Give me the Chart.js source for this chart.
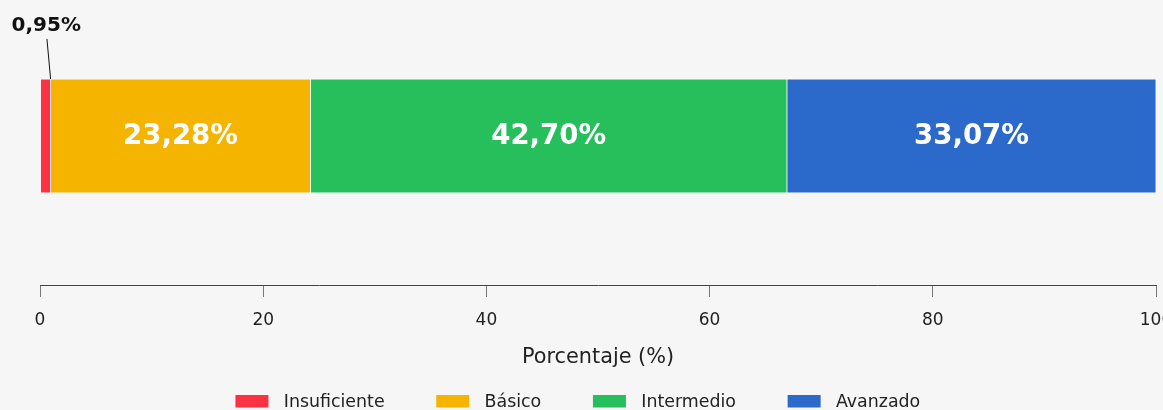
<!DOCTYPE html>
<html>
<head>
<meta charset="utf-8">
<script src="https://cdn.jsdelivr.net/npm/chart.js@4.4.1/dist/chart.umd.min.js"></script>
<style>
html, body { margin: 0; padding: 0; background: #f6f6f6; }
#wrap { position: relative; width: 1163px; height: 410px; overflow: hidden; background: #f6f6f6; }
#c { position: absolute; left: -42px; top: 0; }
</style>
</head>
<body>
<div id="wrap"><canvas id="c" width="1205" height="410"></canvas></div>
<script>
// ---- data ----
const categories = ['Resultado'];
const levelNames = ['Insuficiente', 'Básico', 'Intermedio', 'Avanzado'];
const insuficiente = [0.95];
const basico = [23.28];
const intermedio = [42.70];
const avanzado = [33.07];
const xTickValues = [0, 20, 40, 60, 80, 100];
const axisTitle = 'Porcentaje (%)';

const levelColors = ['#FA3243', '#F4B400', '#26BF5C', '#2B69CB'];
const FONT = 'DejaVu Sans';
Chart.defaults.font.family = FONT;

function makeSwatch(color) {
  const c = document.createElement('canvas');
  c.width = 82; c.height = 16;
  const g = c.getContext('2d');
  g.fillStyle = color;
  g.fillRect(42, 0, 33, 13);
  return c;
}
const swatches = levelColors.map(makeSwatch);

const seriesValues = [insuficiente, basico, intermedio, avanzado];
const datasets = seriesValues.map((vals, i) => ({
  label: levelNames[i],
  data: vals,
  backgroundColor: levelColors[i],
  borderColor: '#ffffff',
  borderWidth: 0.75,
  borderSkipped: false,
  barThickness: 114,
  clip: false
}));

function fmt(v) { return v.toFixed(2).replace('.', ',') + '%'; }

const segLabels = {
  id: 'segLabels',
  afterDatasetsDraw(chart) {
    const ctx = chart.ctx;
    chart.data.datasets.forEach((ds, i) => {
      const meta = chart.getDatasetMeta(i);
      meta.data.forEach((el, j) => {
        const v = ds.data[j];
        const p = el.getProps(['x', 'y', 'base', 'height'], true);
        const cx = (p.x + p.base) / 2;
        ctx.save();
        ctx.textAlign = 'center';
        ctx.textBaseline = 'middle';
        if (v >= 5) {
          ctx.font = 'bold 27.6px "' + FONT + '"';
          ctx.fillStyle = '#ffffff';
          ctx.fillText(fmt(v), cx, p.y + 0.8);
        } else {
          const top = p.y - p.height / 2;
          ctx.strokeStyle = '#111111';
          ctx.lineWidth = 1;
          ctx.beginPath();
          ctx.moveTo(cx + 1.4, top - 40);
          ctx.lineTo(p.x, top);
          ctx.stroke();
          ctx.font = 'bold 20px "' + FONT + '"';
          ctx.fillStyle = '#111111';
          ctx.fillText(fmt(v), cx + 0.7, top - 53);
        }
        ctx.restore();
      });
    });
  }
};

new Chart(document.getElementById('c'), {
  type: 'bar',
  data: { labels: categories, datasets: datasets },
  options: {
    indexAxis: 'y',
    responsive: false,
    maintainAspectRatio: false,
    animation: false,
    devicePixelRatio: 1,
    layout: { padding: { top: 136, right: 7, bottom: 0, left: 0 } },
    scales: {
      y: {
        type: 'category',
        stacked: true,
        offset: false,
        grid: { display: false },
        border: { display: false },
        ticks: { display: false },
        afterFit: s => { s.width = 82; }
      },
      x: {
        type: 'linear',
        stacked: true,
        min: 0,
        max: 100,
        position: 'bottom',
        grid: { drawOnChartArea: false, drawTicks: true, tickLength: 12, color: '#777777', lineWidth: 1 },
        border: { display: true, color: '#444444', width: 1 },
        ticks: {
          padding: 13.3,
          color: '#222222',
          autoSkip: false,
          maxRotation: 0,
          font: { family: FONT, size: 17, lineHeight: 1.2 }
        },
        afterBuildTicks: s => { s.ticks = xTickValues.map(v => ({ value: v })); },
        afterFit: s => { s.paddingLeft = 0; s.paddingRight = 0; },
        title: {
          display: true,
          text: axisTitle,
          color: '#222222',
          font: { family: FONT, size: 20.8, lineHeight: 1.2 },
          padding: { top: 1.52, bottom: 13.32 }
        }
      }
    },
    plugins: {
      tooltip: { enabled: false },
      legend: {
        position: 'bottom',
        maxHeight: 26.2,
        labels: {
          usePointStyle: true,
          pointStyleWidth: 81.3,
          padding: 10,
          color: '#222222',
          font: { family: FONT, size: 17.4 },
          generateLabels(chart) {
            const items = Chart.defaults.plugins.legend.labels.generateLabels(chart);
            items.forEach((it, i) => { it.pointStyle = swatches[i]; });
            return items;
          }
        }
      }
    }
  },
  plugins: [segLabels]
});
</script>
</body>
</html>
